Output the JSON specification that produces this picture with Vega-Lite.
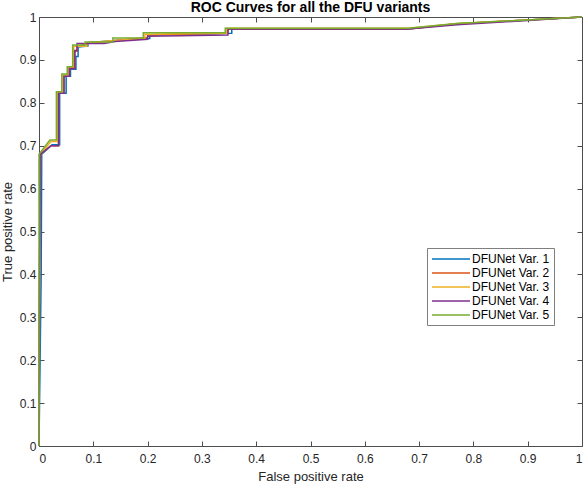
{
  "$schema": "https://vega.github.io/schema/vega-lite/v6.json",
  "width": 543,
  "height": 429,
  "autosize": {"type": "none"},
  "padding": {"left": 39, "top": 17, "right": 2, "bottom": 42},
  "background": "white",
  "config": {
    "view": {"stroke": null},
    "font": "Liberation Sans",
    "axis": {
      "grid": false,
      "domainColor": "#4d4d4d",
      "tickColor": "#4d4d4d",
      "labelColor": "#262626",
      "titleColor": "#262626",
      "labelFontSize": 12,
      "titleFontSize": 13,
      "titleFontWeight": "normal",
      "labelFont": "Liberation Sans",
      "titleFont": "Liberation Sans"
    },
    "title": {"font": "Liberation Sans", "fontSize": 14, "fontWeight": "bold", "color": "#000000", "offset": -4}
  },
  "title": "ROC Curves for all the DFU variants",
  "data": {
    "values": [
      {"model": "DFUNet Var. 1", "i": 0, "fpr": 0, "tpr": 0},
      {"model": "DFUNet Var. 1", "i": 1, "fpr": 0.004, "tpr": 0.4},
      {"model": "DFUNet Var. 1", "i": 2, "fpr": 0.005, "tpr": 0.68},
      {"model": "DFUNet Var. 1", "i": 3, "fpr": 0.024, "tpr": 0.702},
      {"model": "DFUNet Var. 1", "i": 4, "fpr": 0.038, "tpr": 0.702},
      {"model": "DFUNet Var. 1", "i": 5, "fpr": 0.038, "tpr": 0.822},
      {"model": "DFUNet Var. 1", "i": 6, "fpr": 0.05, "tpr": 0.822},
      {"model": "DFUNet Var. 1", "i": 7, "fpr": 0.05, "tpr": 0.862},
      {"model": "DFUNet Var. 1", "i": 8, "fpr": 0.058, "tpr": 0.862},
      {"model": "DFUNet Var. 1", "i": 9, "fpr": 0.058, "tpr": 0.878},
      {"model": "DFUNet Var. 1", "i": 10, "fpr": 0.068, "tpr": 0.878},
      {"model": "DFUNet Var. 1", "i": 11, "fpr": 0.068, "tpr": 0.908},
      {"model": "DFUNet Var. 1", "i": 12, "fpr": 0.072, "tpr": 0.908},
      {"model": "DFUNet Var. 1", "i": 13, "fpr": 0.072, "tpr": 0.93},
      {"model": "DFUNet Var. 1", "i": 14, "fpr": 0.09, "tpr": 0.932},
      {"model": "DFUNet Var. 1", "i": 15, "fpr": 0.09, "tpr": 0.94},
      {"model": "DFUNet Var. 1", "i": 16, "fpr": 0.14, "tpr": 0.945},
      {"model": "DFUNet Var. 1", "i": 17, "fpr": 0.204, "tpr": 0.95},
      {"model": "DFUNet Var. 1", "i": 18, "fpr": 0.204, "tpr": 0.958},
      {"model": "DFUNet Var. 1", "i": 19, "fpr": 0.355, "tpr": 0.962},
      {"model": "DFUNet Var. 1", "i": 20, "fpr": 0.355, "tpr": 0.972},
      {"model": "DFUNet Var. 1", "i": 21, "fpr": 0.68, "tpr": 0.972},
      {"model": "DFUNet Var. 1", "i": 22, "fpr": 0.77, "tpr": 0.984},
      {"model": "DFUNet Var. 1", "i": 23, "fpr": 0.9, "tpr": 0.993},
      {"model": "DFUNet Var. 1", "i": 24, "fpr": 1, "tpr": 1},

      {"model": "DFUNet Var. 2", "i": 0, "fpr": 0, "tpr": 0},
      {"model": "DFUNet Var. 2", "i": 1, "fpr": 0, "tpr": 0.3},
      {"model": "DFUNet Var. 2", "i": 2, "fpr": 0.003, "tpr": 0.68},
      {"model": "DFUNet Var. 2", "i": 3, "fpr": 0.022, "tpr": 0.7},
      {"model": "DFUNet Var. 2", "i": 4, "fpr": 0.036, "tpr": 0.7},
      {"model": "DFUNet Var. 2", "i": 5, "fpr": 0.036, "tpr": 0.822},
      {"model": "DFUNet Var. 2", "i": 6, "fpr": 0.046, "tpr": 0.822},
      {"model": "DFUNet Var. 2", "i": 7, "fpr": 0.046, "tpr": 0.862},
      {"model": "DFUNet Var. 2", "i": 8, "fpr": 0.056, "tpr": 0.862},
      {"model": "DFUNet Var. 2", "i": 9, "fpr": 0.056, "tpr": 0.88},
      {"model": "DFUNet Var. 2", "i": 10, "fpr": 0.066, "tpr": 0.88},
      {"model": "DFUNet Var. 2", "i": 11, "fpr": 0.066, "tpr": 0.92},
      {"model": "DFUNet Var. 2", "i": 12, "fpr": 0.07, "tpr": 0.92},
      {"model": "DFUNet Var. 2", "i": 13, "fpr": 0.07, "tpr": 0.93},
      {"model": "DFUNet Var. 2", "i": 14, "fpr": 0.09, "tpr": 0.938},
      {"model": "DFUNet Var. 2", "i": 15, "fpr": 0.14, "tpr": 0.945},
      {"model": "DFUNet Var. 2", "i": 16, "fpr": 0.2, "tpr": 0.952},
      {"model": "DFUNet Var. 2", "i": 17, "fpr": 0.2, "tpr": 0.958},
      {"model": "DFUNet Var. 2", "i": 18, "fpr": 0.348, "tpr": 0.962},
      {"model": "DFUNet Var. 2", "i": 19, "fpr": 0.348, "tpr": 0.972},
      {"model": "DFUNet Var. 2", "i": 20, "fpr": 0.68, "tpr": 0.972},
      {"model": "DFUNet Var. 2", "i": 21, "fpr": 0.77, "tpr": 0.984},
      {"model": "DFUNet Var. 2", "i": 22, "fpr": 0.9, "tpr": 0.993},
      {"model": "DFUNet Var. 2", "i": 23, "fpr": 1, "tpr": 1},

      {"model": "DFUNet Var. 3", "i": 0, "fpr": 0, "tpr": 0},
      {"model": "DFUNet Var. 3", "i": 1, "fpr": 0.002, "tpr": 0.68},
      {"model": "DFUNet Var. 3", "i": 2, "fpr": 0.022, "tpr": 0.71},
      {"model": "DFUNet Var. 3", "i": 3, "fpr": 0.034, "tpr": 0.71},
      {"model": "DFUNet Var. 3", "i": 4, "fpr": 0.034, "tpr": 0.824},
      {"model": "DFUNet Var. 3", "i": 5, "fpr": 0.044, "tpr": 0.824},
      {"model": "DFUNet Var. 3", "i": 6, "fpr": 0.044, "tpr": 0.865},
      {"model": "DFUNet Var. 3", "i": 7, "fpr": 0.054, "tpr": 0.865},
      {"model": "DFUNet Var. 3", "i": 8, "fpr": 0.054, "tpr": 0.882},
      {"model": "DFUNet Var. 3", "i": 9, "fpr": 0.064, "tpr": 0.882},
      {"model": "DFUNet Var. 3", "i": 10, "fpr": 0.064, "tpr": 0.932},
      {"model": "DFUNet Var. 3", "i": 11, "fpr": 0.088, "tpr": 0.932},
      {"model": "DFUNet Var. 3", "i": 12, "fpr": 0.088, "tpr": 0.94},
      {"model": "DFUNet Var. 3", "i": 13, "fpr": 0.14, "tpr": 0.945},
      {"model": "DFUNet Var. 3", "i": 14, "fpr": 0.195, "tpr": 0.95},
      {"model": "DFUNet Var. 3", "i": 15, "fpr": 0.195, "tpr": 0.96},
      {"model": "DFUNet Var. 3", "i": 16, "fpr": 0.345, "tpr": 0.962},
      {"model": "DFUNet Var. 3", "i": 17, "fpr": 0.345, "tpr": 0.974},
      {"model": "DFUNet Var. 3", "i": 18, "fpr": 0.68, "tpr": 0.974},
      {"model": "DFUNet Var. 3", "i": 19, "fpr": 0.77, "tpr": 0.985},
      {"model": "DFUNet Var. 3", "i": 20, "fpr": 0.9, "tpr": 0.993},
      {"model": "DFUNet Var. 3", "i": 21, "fpr": 1, "tpr": 1},

      {"model": "DFUNet Var. 4", "i": 0, "fpr": 0, "tpr": 0},
      {"model": "DFUNet Var. 4", "i": 1, "fpr": 0.002, "tpr": 0.68},
      {"model": "DFUNet Var. 4", "i": 2, "fpr": 0.022, "tpr": 0.7},
      {"model": "DFUNet Var. 4", "i": 3, "fpr": 0.036, "tpr": 0.7},
      {"model": "DFUNet Var. 4", "i": 4, "fpr": 0.036, "tpr": 0.822},
      {"model": "DFUNet Var. 4", "i": 5, "fpr": 0.046, "tpr": 0.822},
      {"model": "DFUNet Var. 4", "i": 6, "fpr": 0.046, "tpr": 0.862},
      {"model": "DFUNet Var. 4", "i": 7, "fpr": 0.056, "tpr": 0.862},
      {"model": "DFUNet Var. 4", "i": 8, "fpr": 0.056, "tpr": 0.88},
      {"model": "DFUNet Var. 4", "i": 9, "fpr": 0.066, "tpr": 0.88},
      {"model": "DFUNet Var. 4", "i": 10, "fpr": 0.066, "tpr": 0.922},
      {"model": "DFUNet Var. 4", "i": 11, "fpr": 0.07, "tpr": 0.922},
      {"model": "DFUNet Var. 4", "i": 12, "fpr": 0.07, "tpr": 0.938},
      {"model": "DFUNet Var. 4", "i": 13, "fpr": 0.12, "tpr": 0.938},
      {"model": "DFUNet Var. 4", "i": 14, "fpr": 0.14, "tpr": 0.943},
      {"model": "DFUNet Var. 4", "i": 15, "fpr": 0.2, "tpr": 0.948},
      {"model": "DFUNet Var. 4", "i": 16, "fpr": 0.2, "tpr": 0.955},
      {"model": "DFUNet Var. 4", "i": 17, "fpr": 0.348, "tpr": 0.958},
      {"model": "DFUNet Var. 4", "i": 18, "fpr": 0.348, "tpr": 0.972},
      {"model": "DFUNet Var. 4", "i": 19, "fpr": 0.68, "tpr": 0.972},
      {"model": "DFUNet Var. 4", "i": 20, "fpr": 0.77, "tpr": 0.982},
      {"model": "DFUNet Var. 4", "i": 21, "fpr": 0.9, "tpr": 0.992},
      {"model": "DFUNet Var. 4", "i": 22, "fpr": 1, "tpr": 1},

      {"model": "DFUNet Var. 5", "i": 0, "fpr": 0, "tpr": 0},
      {"model": "DFUNet Var. 5", "i": 1, "fpr": 0, "tpr": 0.68},
      {"model": "DFUNet Var. 5", "i": 2, "fpr": 0.02, "tpr": 0.713},
      {"model": "DFUNet Var. 5", "i": 3, "fpr": 0.032, "tpr": 0.713},
      {"model": "DFUNet Var. 5", "i": 4, "fpr": 0.032, "tpr": 0.826},
      {"model": "DFUNet Var. 5", "i": 5, "fpr": 0.042, "tpr": 0.826},
      {"model": "DFUNet Var. 5", "i": 6, "fpr": 0.042, "tpr": 0.867},
      {"model": "DFUNet Var. 5", "i": 7, "fpr": 0.052, "tpr": 0.867},
      {"model": "DFUNet Var. 5", "i": 8, "fpr": 0.052, "tpr": 0.884},
      {"model": "DFUNet Var. 5", "i": 9, "fpr": 0.062, "tpr": 0.884},
      {"model": "DFUNet Var. 5", "i": 10, "fpr": 0.062, "tpr": 0.935},
      {"model": "DFUNet Var. 5", "i": 11, "fpr": 0.085, "tpr": 0.935},
      {"model": "DFUNet Var. 5", "i": 12, "fpr": 0.085, "tpr": 0.942},
      {"model": "DFUNet Var. 5", "i": 13, "fpr": 0.136, "tpr": 0.942},
      {"model": "DFUNet Var. 5", "i": 14, "fpr": 0.136, "tpr": 0.951},
      {"model": "DFUNet Var. 5", "i": 15, "fpr": 0.192, "tpr": 0.951},
      {"model": "DFUNet Var. 5", "i": 16, "fpr": 0.192, "tpr": 0.963},
      {"model": "DFUNet Var. 5", "i": 17, "fpr": 0.343, "tpr": 0.963},
      {"model": "DFUNet Var. 5", "i": 18, "fpr": 0.343, "tpr": 0.974},
      {"model": "DFUNet Var. 5", "i": 19, "fpr": 0.68, "tpr": 0.974},
      {"model": "DFUNet Var. 5", "i": 20, "fpr": 0.77, "tpr": 0.985},
      {"model": "DFUNet Var. 5", "i": 21, "fpr": 0.9, "tpr": 0.993},
      {"model": "DFUNet Var. 5", "i": 22, "fpr": 1, "tpr": 1}
    ]
  },
  "layer": [
    {
      "mark": {"type": "line", "strokeWidth": 1.5, "interpolate": "linear"},
      "encoding": {
        "x": {
          "field": "fpr",
          "type": "quantitative",
          "scale": {"domain": [0, 1], "nice": false, "zero": false},
          "axis": {
            "orient": "bottom",
            "title": "False positive rate",
            "values": [0, 0.1, 0.2, 0.3, 0.4, 0.5, 0.6, 0.7, 0.8, 0.9, 1],
            "format": ".1~f",
            "tickSize": -5,
            "labelPadding": 12,
            "titlePadding": 6
          }
        },
        "y": {
          "field": "tpr",
          "type": "quantitative",
          "scale": {"domain": [0, 1], "nice": false, "zero": false},
          "axis": {
            "orient": "left",
            "title": "True positive rate",
            "values": [0, 0.1, 0.2, 0.3, 0.4, 0.5, 0.6, 0.7, 0.8, 0.9, 1],
            "format": ".1~f",
            "tickSize": -5,
            "labelPadding": 8,
            "titlePadding": 5
          }
        },
        "order": {"field": "i", "type": "quantitative"},
        "color": {
          "field": "model",
          "type": "nominal",
          "scale": {
            "domain": ["DFUNet Var. 1", "DFUNet Var. 2", "DFUNet Var. 3", "DFUNet Var. 4", "DFUNet Var. 5"],
            "range": ["#0072BD", "#D95319", "#EDB120", "#7E2F8E", "#77AC30"]
          },
          "legend": {
            "title": null,
            "orient": "none",
            "legendX": 388,
            "legendY": 231,
            "symbolType": "M-1,0H5.33",
            "symbolSize": 144,
            "symbolStrokeWidth": 1.5,
            "labelFontSize": 12,
            "labelColor": "#000000",
            "labelFont": "Liberation Sans",
            "labelOffset": 27,
            "rowPadding": 1,
            "padding": 4,
            "strokeColor": "#7f7f7f",
            "fillColor": "white"
          }
        }
      }
    },
    {
      "mark": {"type": "line", "opacity": 0},
      "encoding": {
        "x": {
          "field": "fpr",
          "type": "quantitative",
          "scale": {"domain": [0, 1], "nice": false, "zero": false},
          "axis": {
            "orient": "top",
            "title": null,
            "labels": false,
            "values": [0, 0.1, 0.2, 0.3, 0.4, 0.5, 0.6, 0.7, 0.8, 0.9, 1],
            "tickSize": -5
          }
        },
        "y": {
          "field": "tpr",
          "type": "quantitative",
          "scale": {"domain": [0, 1], "nice": false, "zero": false},
          "axis": {
            "orient": "right",
            "title": null,
            "labels": false,
            "values": [0, 0.1, 0.2, 0.3, 0.4, 0.5, 0.6, 0.7, 0.8, 0.9, 1],
            "tickSize": -5
          }
        },
        "detail": {"field": "model", "type": "nominal"},
        "order": {"field": "i", "type": "quantitative"}
      }
    }
  ],
  "resolve": {"axis": {"x": "independent", "y": "independent"}}
}
